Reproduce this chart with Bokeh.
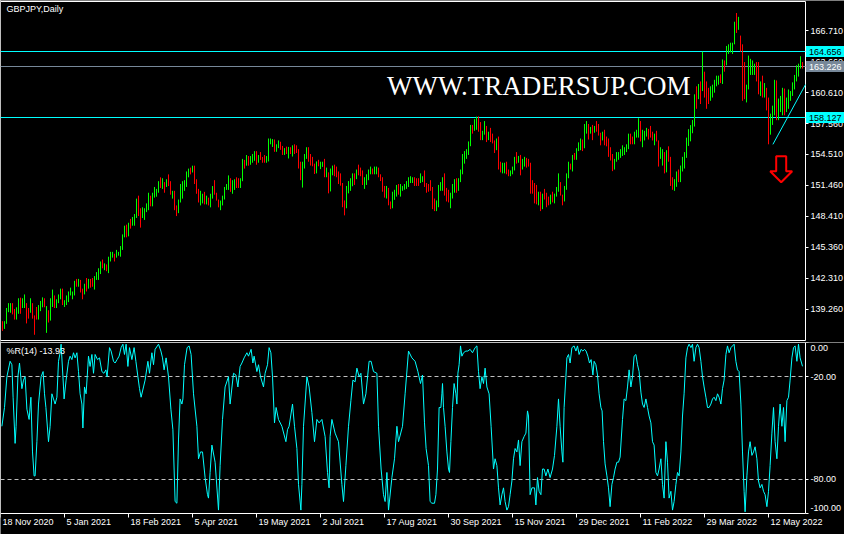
import math
from bokeh.plotting import figure
from bokeh.models import Range1d, ColumnDataSource
from bokeh.layouts import column
from bokeh.embed import file_html
from bokeh.resources import INLINE
from bokeh.core.properties import value

# ---------------- data ----------------
high = [
    138.06, 138.06, 139.36, 139.84, 139.84, 139.84, 139.27, 139.43, 140.32, 140.38,
    140.32, 140.70, 139.84, 139.36, 140.32, 139.84, 138.63, 139.46, 139.65, 140.06,
    140.41, 140.32, 139.55, 139.14, 140.32, 141.18, 140.60, 140.22, 140.70, 141.27,
    141.27, 140.13, 140.60, 140.99, 141.37, 140.99, 142.04, 142.23, 142.23, 142.13,
    141.27, 141.75, 142.32, 142.23, 142.23, 142.32, 142.51, 142.90, 143.28, 143.95,
    144.14, 143.76, 143.66, 144.42, 144.90, 144.90, 144.71, 145.09, 144.90, 145.47,
    146.62, 147.48, 147.58, 147.77, 148.15, 148.34, 148.63, 150.15, 150.44, 149.20,
    149.29, 149.20, 149.68, 150.73, 150.44, 150.73, 151.30, 151.11, 151.87, 152.25,
    152.16, 151.78, 152.06, 152.54, 151.87, 150.92, 150.92, 149.48, 150.06, 151.59,
    151.87, 151.97, 152.83, 153.11, 153.21, 153.40, 153.40, 152.06, 151.11, 150.92,
    150.63, 150.82, 150.44, 150.25, 150.63, 151.39, 151.97, 150.73, 150.06, 149.96,
    150.44, 151.30, 151.59, 152.44, 152.16, 151.97, 152.06, 152.25, 152.16, 152.16,
    154.07, 153.97, 154.45, 154.35, 154.35, 154.55, 154.83, 154.83, 154.45, 154.74,
    154.26, 154.45, 154.35, 156.08, 156.08, 156.02, 155.98, 155.51, 155.89, 155.76,
    155.35, 155.13, 155.28, 155.25, 155.22, 155.41, 155.51, 155.41, 155.03, 153.79,
    153.79, 154.55, 155.22, 155.22, 154.55, 154.27, 153.60, 153.82, 153.98, 153.79,
    153.79, 154.07, 153.21, 152.74, 153.12, 153.41, 153.50, 153.31, 152.83, 152.64,
    151.69, 149.97, 151.40, 151.88, 152.16, 152.64, 152.64, 153.02, 153.50, 153.21,
    152.93, 152.26, 152.55, 153.02, 153.31, 153.12, 153.31, 153.31, 153.21, 152.55,
    152.26, 151.40, 151.40, 151.21, 149.87, 150.83, 151.02, 151.50, 151.59, 151.59,
    151.40, 151.59, 151.88, 152.26, 152.36, 152.26, 152.26, 152.16, 152.16, 152.64,
    152.36, 152.93, 151.69, 151.59, 151.97, 151.30, 150.16, 149.97, 151.50, 151.78,
    152.26, 152.64, 151.21, 151.02, 150.73, 151.59, 152.07, 152.16, 152.16, 153.02,
    154.55, 154.84, 155.03, 155.79, 157.42, 157.42, 157.99, 158.24, 158.27, 157.70,
    156.84, 157.80, 157.32, 156.75, 157.13, 156.56, 155.89, 156.08, 156.27, 153.79,
    153.69, 153.69, 153.79, 153.02, 152.93, 153.31, 154.27, 154.74, 154.36, 154.46,
    154.07, 154.27, 154.17, 154.07, 153.69, 151.97, 151.69, 151.50, 150.83, 150.83,
    150.64, 151.11, 150.73, 150.35, 150.54, 150.83, 150.64, 151.30, 152.64, 151.78,
    150.54, 151.40, 152.64, 153.79, 153.60, 154.46, 154.65, 155.12, 155.70, 156.08,
    155.98, 157.51, 157.80, 157.51, 157.22, 157.42, 157.32, 157.80, 157.51, 156.65,
    156.75, 156.94, 156.27, 156.08, 155.22, 154.55, 154.07, 154.74, 154.74, 155.03,
    155.41, 155.22, 155.51, 156.56, 156.56, 156.27, 156.75, 156.94, 158.08, 157.80,
    156.94, 156.84, 157.13, 157.03, 157.32, 156.75, 156.56, 156.84, 155.89, 155.22,
    155.03, 154.74, 154.93, 155.31, 154.27, 152.26, 152.07, 152.83, 153.02, 153.41,
    154.27, 154.74, 156.17, 157.00, 157.40, 157.90, 160.44, 161.23, 161.46, 161.71,
    164.64, 162.67, 161.71, 161.08, 161.23, 161.39, 161.87, 162.28, 162.28, 162.41,
    163.88, 163.78, 165.21, 165.37, 165.53, 165.53, 167.60, 168.46, 168.08, 166.23,
    165.37, 163.62, 161.39, 164.26, 163.94, 163.78, 163.46, 163.62, 163.62, 161.71,
    162.28, 161.55, 161.08, 160.12, 158.53, 159.32, 161.87, 161.81, 160.02, 160.28,
    161.08, 161.01, 160.12, 160.92, 160.76, 161.62, 162.35, 163.30, 163.46, 164.19,
    163.62,
]
low = [
    137.10, 137.30, 137.80, 138.95, 138.89, 138.73, 138.22, 138.22, 138.79, 138.79,
    139.36, 139.36, 137.84, 138.31, 138.89, 138.31, 136.72, 138.22, 138.22, 139.05,
    139.43, 139.43, 136.91, 137.93, 138.12, 139.46, 139.36, 139.36, 139.84, 140.22,
    139.65, 139.46, 139.65, 139.94, 140.60, 140.22, 140.60, 141.46, 141.46, 140.89,
    140.22, 140.70, 140.99, 141.27, 141.37, 141.46, 141.18, 142.13, 142.13, 142.71,
    143.28, 143.09, 142.99, 142.80, 143.95, 144.33, 143.95, 144.33, 144.52, 144.42,
    145.09, 146.33, 146.33, 146.43, 147.19, 147.48, 147.48, 148.24, 148.43, 147.29,
    148.24, 148.05, 148.82, 149.01, 149.39, 149.39, 150.25, 150.34, 150.73, 151.20,
    151.11, 150.73, 151.30, 151.39, 150.54, 150.15, 149.01, 148.43, 148.72, 149.77,
    150.15, 150.92, 151.30, 152.25, 152.54, 152.73, 151.59, 150.63, 149.77, 149.48,
    149.68, 149.58, 149.58, 149.48, 149.29, 150.15, 150.54, 149.96, 149.29, 149.01,
    149.48, 150.06, 151.01, 151.01, 150.82, 150.63, 151.01, 151.20, 151.20, 151.20,
    151.87, 153.11, 153.40, 153.40, 153.49, 153.69, 153.88, 153.49, 153.69, 153.97,
    153.69, 153.69, 153.69, 153.82, 155.51, 155.25, 154.77, 154.77, 155.13, 154.96,
    154.46, 154.46, 154.55, 154.11, 154.55, 154.30, 154.55, 154.65, 153.12, 151.97,
    151.24, 153.12, 154.07, 153.79, 153.41, 153.34, 152.58, 152.64, 153.34, 153.06,
    153.28, 152.26, 152.26, 150.67, 150.86, 152.45, 152.36, 152.26, 151.59, 151.43,
    149.30, 148.50, 149.20, 150.67, 150.92, 151.37, 151.50, 152.07, 152.45, 152.36,
    151.50, 151.11, 151.50, 151.97, 152.55, 152.55, 152.55, 152.55, 152.26, 151.88,
    150.83, 150.25, 150.16, 149.49, 149.11, 149.20, 150.03, 150.35, 150.54, 150.35,
    150.92, 151.02, 151.11, 151.30, 151.69, 151.69, 151.40, 151.40, 151.40, 151.69,
    151.78, 151.30, 150.73, 150.83, 150.92, 149.11, 148.92, 148.92, 149.30, 150.92,
    150.92, 150.45, 149.87, 149.78, 149.20, 150.16, 150.73, 150.73, 150.92, 151.78,
    152.55, 153.60, 154.07, 154.46, 155.32, 156.56, 156.84, 156.94, 156.75, 155.92,
    155.92, 156.46, 155.73, 155.92, 155.73, 155.60, 154.65, 154.93, 153.02, 152.74,
    152.64, 152.64, 152.55, 152.36, 152.36, 152.55, 152.93, 153.60, 153.69, 152.45,
    153.02, 153.31, 153.21, 153.31, 150.64, 150.64, 149.68, 149.59, 149.49, 148.92,
    149.11, 150.06, 149.30, 149.49, 149.59, 149.78, 149.68, 150.35, 150.83, 150.45,
    149.49, 149.87, 151.02, 152.16, 153.02, 152.83, 153.98, 153.98, 154.84, 154.93,
    154.84, 155.12, 156.56, 155.98, 156.56, 155.92, 156.65, 156.75, 156.37, 155.41,
    155.89, 155.41, 155.31, 154.27, 153.91, 152.86, 153.02, 153.79, 153.98, 154.17,
    154.36, 154.46, 154.74, 155.03, 155.51, 155.51, 155.51, 156.17, 156.17, 155.79,
    155.22, 155.89, 156.27, 155.98, 156.17, 155.89, 155.41, 155.79, 153.31, 154.07,
    153.41, 152.64, 152.74, 153.79, 151.40, 151.02, 150.92, 151.31, 151.78, 151.78,
    152.83, 153.12, 154.17, 155.35, 155.80, 156.60, 157.26, 159.01, 159.96, 159.48,
    160.76, 160.12, 159.01, 159.48, 159.80, 160.12, 160.60, 161.23, 161.39, 161.55,
    161.46, 162.67, 163.30, 164.42, 164.58, 164.42, 165.37, 166.49, 166.80, 164.64,
    159.80, 159.96, 159.64, 160.92, 162.35, 162.35, 162.35, 161.71, 160.44, 160.28,
    160.12, 160.12, 158.85, 155.51, 156.46, 157.42, 158.37, 157.89, 157.89, 158.69,
    158.37, 158.37, 158.69, 159.01, 159.80, 160.28, 160.92, 161.71, 162.19, 162.98,
    162.98,
]
# 1 = bullish bar (green), 0 = bearish bar (red)
up = [
    0, 1, 1, 1, 1, 0, 0, 1, 1, 0,   1, 1, 0, 0, 1, 0, 0, 0, 1, 1,
    1, 0, 1, 0, 1, 1, 0, 1, 1, 1,   0, 1, 1, 1, 1, 1, 1, 0, 1, 0,
    0, 1, 0, 1, 0, 0, 1, 1, 1, 1,   0, 1, 0, 1, 1, 1, 0, 1, 1, 1,
    1, 1, 0, 1, 0, 1, 1, 1, 0, 0,   1, 1, 1, 1, 0, 1, 1, 1, 1, 0,
    1, 0, 1, 0, 0, 1, 0, 0, 1, 1,   1, 1, 1, 1, 0, 1, 0, 0, 0, 1,
    1, 0, 1, 0, 1, 1, 0, 0, 0, 1,   1, 1, 1, 1, 0, 1, 1, 0, 0, 1,
    1, 0, 1, 0, 1, 1, 1, 0, 1, 0,   0, 0, 1, 1, 1, 1, 0, 1, 1, 0,
    0, 1, 0, 1, 0, 1, 0, 0, 0, 0,   1, 1, 1, 0, 0, 0, 0, 1, 0, 1,
    1, 0, 1, 0, 1, 1, 0, 0, 0, 0,   0, 0, 1, 1, 1, 1, 0, 1, 0, 0,
    0, 1, 1, 1, 1, 0, 1, 1, 0, 0,   0, 0, 1, 0, 0, 1, 1, 1, 0, 1,
    1, 1, 1, 1, 1, 1, 0, 0, 0, 1,   1, 0, 0, 0, 0, 0, 0, 1, 1, 1,
    1, 0, 0, 0, 1, 1, 1, 0, 1, 1,   1, 1, 1, 1, 1, 0, 1, 1, 0, 0,
    1, 1, 0, 1, 0, 0, 0, 1, 0, 0,   1, 1, 0, 0, 1, 1, 1, 0, 1, 0,
    1, 1, 0, 0, 0, 0, 0, 0, 1, 0,   1, 0, 0, 0, 1, 0, 1, 1, 1, 0,
    0, 1, 1, 1, 0, 1, 0, 1, 1, 1,   0, 1, 1, 0, 1, 0, 1, 0, 0, 0,
    1, 0, 0, 0, 0, 0, 1, 1, 1, 1,   1, 1, 1, 1, 0, 0, 1, 1, 1, 0,
    1, 1, 1, 0, 0, 0, 1, 0, 0, 1,   1, 0, 1, 0, 0, 0, 1, 1, 0, 1,
    1, 1, 1, 1, 1, 1, 1, 0, 1, 0,   1, 0, 0, 0, 1, 1, 1, 1, 1, 0,
    1, 0, 1, 1, 1, 1, 1, 0, 1, 0,   0, 0, 1, 1, 1, 1, 1, 0, 0, 1,
    0, 1, 0, 0, 1, 1, 1, 0, 1, 1,   1, 0, 1, 1, 1, 1, 1, 1, 1, 1,
    0,
]

# Williams %R(14): bar position and value
wr_bar = [
    -0.3, 1.0, 2.2, 3.8, 4.7, 5.3, 6.3, 6.8, 7.7, 8.5, 8.8, 9.7, 10.5, 11.3, 12.2, 13.3, 14.2, 15.0,
    15.8, 16.3, 17.2, 18.0, 19.3, 20.3, 21.0, 21.7, 23.0, 23.8, 24.7, 25.5, 26.3, 27.2, 28.0, 28.8,
    29.3, 30.5, 30.8, 31.8, 33.0, 33.8, 34.7, 35.5, 36.3, 37.2, 38.0, 38.8, 39.7, 40.2, 41.0, 41.8,
    43.0, 43.8, 44.7, 45.5, 46.3, 47.5, 48.5, 49.7, 50.7, 51.7, 52.3, 53.5, 54.3, 55.5, 56.3, 57.3,
    58.3, 59.3, 60.2, 61.0, 61.8, 62.7, 63.5, 64.7, 65.8, 66.7, 67.7, 68.5, 69.3, 70.5, 71.3, 72.7,
    73.5, 74.7, 75.5, 76.3, 78.0, 79.2, 80.0, 80.8, 81.8, 83.0, 84.2, 85.2, 86.3, 87.2, 88.0, 88.8,
    89.7, 90.2, 91.0, 92.3, 93.3, 94.3, 95.5, 97.2, 98.0, 99.0, 100.0, 101.3, 102.5, 103.0, 103.8,
    104.7, 106.3, 108.0, 108.8, 110.0, 111.3, 113.0, 113.8, 115.5, 116.7, 117.7, 118.8, 119.7, 120.8,
    122.2, 123.0, 124.3, 125.2, 125.8, 127.2, 128.0, 129.0, 130.5, 131.3, 132.5, 133.3, 134.2, 135.0,
    136.0, 136.8, 138.0, 139.7, 141.7, 142.5, 143.3, 145.0, 146.0, 147.2, 148.0, 149.2, 149.7, 150.5,
    152.2, 153.3, 154.7, 156.0, 157.2, 158.3, 159.7, 161.3, 162.5, 163.3, 163.8, 164.7, 166.3, 168.0,
    169.7, 170.5, 171.7, 173.0, 174.2, 175.2, 176.3, 177.2, 178.3, 179.2, 180.5, 181.7, 183.3, 184.3,
    185.5, 187.2, 188.0, 189.3, 190.5, 191.3, 192.2, 193.0, 194.7, 196.0, 197.2, 198.0, 200.0, 201.3,
    203.0, 204.7, 206.3, 207.7, 209.0, 210.0, 211.0, 211.8, 213.0,
    213.8, 214.7, 216.0, 216.7, 217.5, 218.3, 219.2, 219.7, 220.0, 220.5, 221.3, 222.2, 223.0, 223.5,
    224.2, 225.0, 225.8, 226.7, 227.2, 227.7, 228.3, 229.0, 229.7, 230.5, 231.7, 232.7, 233.8, 235.0,
    236.3, 237.2, 238.0, 238.8, 239.7, 240.5, 241.3, 242.2, 243.3, 244.3, 245.5, 246.3, 247.2, 248.0,
    248.8, 249.7, 250.5, 251.3, 252.2, 253.0, 253.8, 254.7, 255.5, 256.3, 257.2, 258.0, 258.8, 259.7,
    260.8, 261.7, 262.5, 263.0, 263.8, 264.7, 266.0, 266.7, 267.5, 268.3, 269.2, 270.0, 270.8, 271.7,
    272.7, 273.8, 275.0, 276.0, 277.2, 278.0, 278.8, 279.7, 280.2, 280.8, 281.7, 282.2, 283.0, 283.8,
    284.7, 285.8, 286.7, 287.5, 288.3, 289.3, 290.2, 291.0, 291.8, 292.7, 293.5, 294.3, 295.2, 295.8,
    296.7, 297.5, 298.3, 299.2, 299.8, 300.5, 301.3, 302.2, 303.0, 303.8, 304.7, 305.5, 306.3, 307.2,
    308.0, 308.8, 310.0, 310.8, 311.7, 312.5, 313.3, 314.2, 315.0, 315.8, 316.7, 317.5, 318.3, 319.2,
    320.0, 320.8, 321.7, 322.5, 323.3, 324.2, 325.0, 325.8, 326.7, 327.5, 328.3, 329.2, 330.0, 330.8,
    331.7, 332.5, 333.3, 334.2, 335.0, 335.8, 336.7, 337.5, 338.3, 339.2, 340.0, 340.8, 341.7, 342.5,
    343.3, 344.2, 345.0, 345.8, 346.7, 347.5, 348.3, 349.2, 350.0, 350.8, 351.7, 352.5, 353.3, 354.2,
    355.0, 355.8, 356.7, 357.5, 358.3, 359.2, 360.0, 360.8, 361.7, 362.5, 363.3, 364.2, 365.0, 365.8,
    366.7, 367.5, 368.3, 369.2, 370.0, 370.8, 371.3, 372.2, 373.0, 373.8, 374.7, 375.5, 376.3, 377.2,
    378.0, 378.8, 379.7, 380.5, 381.3, 382.2, 383.0, 383.8, 384.7, 385.5, 386.3, 387.2, 388.0, 388.8,
    389.7, 390.5, 391.3, 392.2, 393.0, 393.8, 394.7, 395.5, 396.3, 397.2, 398.0, 398.8, 400.0,
]
wr_val = [
    -49, -38, -20, -11, -13, -32, -59, -49, -20, -12, -16, -27, -22, -20, -39, -45, -32, -64,
    -78, -78, -58, -36, -20, -17, -30, -38, -58, -49, -30, -33, -36, -32, -11, -6,
    -1, -26, -33, -22, -11, -8, -10, -6, -9, -6, -17, -30, -36, -50, -26, -30,
    -8, -14, -7, -18, -7, -10, -9, -17, -18, -16, -20, -3, -5, -11, -12, -10,
    -8, -3, -1, -7, -1, -14, -3, -10, -3, -11, -20, -27, -32, -26, -22, -11,
    -18, -6, -13, -4, -1, -5, -9, -16, -9, -20, -39, -51, -93, -94, -57, -33,
    -36, -33, -13, -3, -2, -7, -30, -49, -68, -64, -64, -79, -89, -91, -76,
    -60, -70, -98, -72, -45, -26, -20, -36, -18, -19, -26, -14, -12, -9,
    -6, -8, -4, -12, -8, -17, -13, -20, -26, -18, -13, -3, -6, -20,
    -47, -38, -45, -49, -58, -51, -49, -36, -49, -62, -83, -98, -83, -49,
    -20, -26, -41, -58, -45, -47, -45, -55, -76, -85, -55, -45, -53, -58,
    -83, -93, -72, -49, -34, -22, -23, -15, -20, -18, -36, -30, -11, -11,
    -17, -18, -49, -74, -89, -93, -76, -98, -79, -68, -49, -58, -49, -30,
    -5, -9, -11, -17, -24, -19, -47, -62, -72,
    -93, -94, -94, -89, -74, -38, -38, -30, -24, -38, -49, -64, -74, -76,
    -58, -38, -24, -30, -36, -18, -13, -2, -8, -6, -5, -5, -4, -6,
    -3, -2, -17, -27, -20, -24, -15, -26, -30, -49, -74, -68, -72, -85,
    -95, -89, -85, -93, -98, -96, -89, -81, -68, -62, -64, -57, -72, -58,
    -55, -53, -40, -43, -89, -85, -85, -95, -79, -87, -89, -74, -74, -78,
    -74, -79, -74, -66, -49, -33, -49, -64, -70, -38, -20, -9, -7, -12,
    -3, -2, -5, -2, -7, -4, -5, -4, -5, -8, -12, -10, -19, -11,
    -13, -19, -30, -38, -40, -58, -71, -78, -85, -96, -83, -79, -74, -70,
    -70, -67, -45, -33, -34, -26, -16, -26, -20, -8, -7, -13, -17, -29,
    -36, -38, -33, -38, -43, -47, -58, -60, -76, -78, -74, -68, -83, -91,
    -58, -70, -91, -87, -98, -93, -83, -76, -78, -64, -43, -30, -9, -3,
    -1, -3, -1, -11, -3, -1, -3, -11, -20, -26, -32, -38, -38, -36,
    -33, -32, -34, -30, -32, -36, -27, -22, -7, -2, -6, -3, -2, -1,
    -11, -16, -17, -36, -64, -87, -99, -78, -64, -58, -66, -64, -61, -68,
    -81, -85, -83, -87, -89, -96, -87, -72, -53, -38, -58, -68, -49, -36,
    -49, -38, -58, -34, -32, -22, -9, -3, -2, -11, -1, -9, -13.93,
]

price_ticks = [139.26, 142.31, 145.36, 148.41, 151.46, 154.51, 157.56, 160.61, 163.66, 166.71]
date_ticks = [-1, 31, 63, 95, 127, 159, 191, 223, 255, 287, 319, 351, 383]
date_labels = ["18 Nov 2020", "5 Jan 2021", "18 Feb 2021", "5 Apr 2021", "19 May 2021",
               "2 Jul 2021", "17 Aug 2021", "30 Sep 2021", "15 Nov 2021", "29 Dec 2021",
               "11 Feb 2022", "29 Mar 2022", "12 May 2022"]
cyan_levels = [164.656, 158.127]
bid_price = 163.226
wr_ticks = [0, -20, -80, -100]
wr_levels = [-20, -80]
wr_last = -13.93
trend_bar = [385.2, 401.5]
trend_price = [155.5, 161.4]
arrow_bar = 389.35
arrow_price = 154.33
watermark = "WWW.TRADERSUP.COM"
wm_bar = 192.25
wm_price = 161.23
title = "GBPJPY,Daily"

# ---------------- geometry / style ----------------
W = 844
H1, H2 = 342, 192
BAR_PX = 2.0
X_START = -1.0
X_END = X_START + W / BAR_PX


def bx(px):
    return X_START + px / BAR_PX


L_EDGE, R_EDGE = bx(0), bx(805)        # left border / price-axis line (bar units)

P_TOP, P_BOT = 169.595, 136.155        # prices at top / bottom border of the price panel
T1, B1 = 1.0, 340.0
S1 = (B1 - T1) / (P_TOP - P_BOT)


def py1(row):
    return P_TOP - (row - T1) / S1


def snap1(v):
    return py1(round(T1 + (P_TOP - v) * S1))


T2, B2 = 0.0, 171.0
S2 = (B2 - T2) / 100.0


def py2(row):
    return -(row - T2) / S2


def snap2(v):
    return py2(round(T2 - v * S2))


FONT = value("Liberation Sans")
FS = value("9px")
GREEN, RED, CYAN, GRAY = "#00FF00", "#FF0000", "#00FFFF", "#778899"


def base_fig(h, y0, y1):
    p = figure(width=W, height=h, x_range=Range1d(X_START, X_END), y_range=Range1d(y0, y1),
               x_axis_location=None, y_axis_location=None, toolbar_location=None,
               output_backend="svg", min_border=0)
    p.min_border_left = p.min_border_right = p.min_border_top = p.min_border_bottom = 0
    p.background_fill_color = "black"
    p.border_fill_color = "black"
    p.outline_line_color = None
    p.grid.grid_line_color = None
    return p


# ---------- price panel ----------
p1 = base_fig(H1, py1(H1), py1(0))

p1.segment(x0=[L_EDGE, L_EDGE, L_EDGE, R_EDGE], y0=[P_TOP, P_BOT, P_BOT, P_BOT],
           x1=[R_EDGE, R_EDGE, L_EDGE, R_EDGE], y1=[P_TOP, P_BOT, P_TOP, P_TOP],
           line_color="white", line_width=1)

lv_y = [snap1(v) for v in cyan_levels]
p1.segment(x0=[L_EDGE] * 2, x1=[R_EDGE] * 2, y0=lv_y, y1=lv_y, line_color=CYAN, line_width=1)
bid_y = snap1(bid_price)
p1.segment(x0=[L_EDGE], x1=[R_EDGE], y0=[bid_y], y1=[bid_y], line_color=GRAY, line_width=1)

src = ColumnDataSource(dict(x=list(range(len(high))), hi=high, lo=low,
                            c=[GREEN if u else RED for u in up]))
p1.segment(x0="x", y0="lo", x1="x", y1="hi", line_color="c", line_width=1, source=src)

p1.line(trend_bar, trend_price, line_color=CYAN, line_width=1)

shape = [(-5, 0), (5, 0), (5, 15), (11, 15), (0, 26), (-11, 15), (-5, 15)]
p1.patch([arrow_bar + dx / BAR_PX for dx, dy in shape],
         [arrow_price - dy / S1 for dx, dy in shape],
         fill_color=None, line_color=RED, line_width=2)

p1.text(x=[wm_bar], y=[wm_price], text=[watermark], text_font=value("Liberation Serif"),
        text_font_size=value("27px"), text_color="white", text_baseline="alphabetic",
        text_align="left")
p1.text(x=[bx(6)], y=[py1(T1 + 2.5)], text=[title], text_font=FONT, text_font_size=FS,
        text_color="white", text_baseline="top", text_align="left")

# price axis
tk = [snap1(v) for v in price_ticks]
p1.segment(x0=[R_EDGE] * len(tk), x1=[bx(808)] * len(tk), y0=tk, y1=tk,
           line_color="white", line_width=1)
p1.text(x=[bx(810)] * len(price_ticks), y=price_ticks, text=[f"{v:.3f}" for v in price_ticks],
        text_font=FONT, text_font_size=FS, text_color="white", text_baseline="middle",
        text_align="left")

box_vals = [cyan_levels[0], bid_price, cyan_levels[1]]
box_bg = [CYAN, GRAY, CYAN]
box_fg = ["black", "white", "black"]
box_y = [snap1(v) for v in box_vals]
p1.quad(left=[bx(805.5)] * 3, right=[bx(W)] * 3, top=[y + 5.5 / S1 for y in box_y],
        bottom=[y - 5.5 / S1 for y in box_y], fill_color=box_bg, line_color=None)
p1.text(x=[bx(808.5)] * 3, y=box_y, text=[f"{v:.3f}" for v in box_vals], text_font=FONT,
        text_font_size=FS, text_color=box_fg, text_baseline="middle", text_align="left")

# ---------- %R panel ----------
p2 = base_fig(H2, py2(H2), py2(0))

p2.segment(x0=[L_EDGE, L_EDGE, L_EDGE, R_EDGE], y0=[0, -100, -100, -100],
           x1=[R_EDGE, R_EDGE, L_EDGE, R_EDGE], y1=[0, -100, 0, 0],
           line_color="white", line_width=1)
wl = [snap2(v) for v in wr_levels]
p2.segment(x0=[L_EDGE] * 2, x1=[R_EDGE] * 2, y0=wl, y1=wl, line_color="#C0C0C0",
           line_width=1, line_dash="4 3")
p2.line(wr_bar, wr_val, line_color=CYAN, line_width=1)

wt = [snap2(v) for v in wr_ticks]
p2.segment(x0=[R_EDGE] * 4, x1=[bx(808)] * 4, y0=wt, y1=wt, line_color="white", line_width=1)
wr_label_y = [py2(T2 + 5.5), -20, -80, py2(B2 - 6)]
p2.text(x=[bx(810)] * 4, y=wr_label_y, text=[f"{v:.2f}" for v in wr_ticks], text_font=FONT,
        text_font_size=FS, text_color="white", text_baseline="middle", text_align="left")

p2.text(x=[bx(6)], y=[py2(T2 + 3)], text=[f"%R(14) {wr_last:.2f}"], text_font=FONT,
        text_font_size=FS, text_color="white", text_baseline="top", text_align="left")

# date axis
n = len(date_ticks)
p2.segment(x0=date_ticks, x1=date_ticks, y0=[-100] * n, y1=[py2(B2 + 4)] * n,
           line_color="white", line_width=1)
p2.text(x=[t + 1.0 for t in date_ticks], y=[py2(B2 + 3.5)] * n, text=date_labels, text_font=FONT,
        text_font_size=FS, text_color="white", text_baseline="top", text_align="left")

layout = column(p1, p2, spacing=0)
open("out.html", "w").write(file_html(layout, INLINE))
